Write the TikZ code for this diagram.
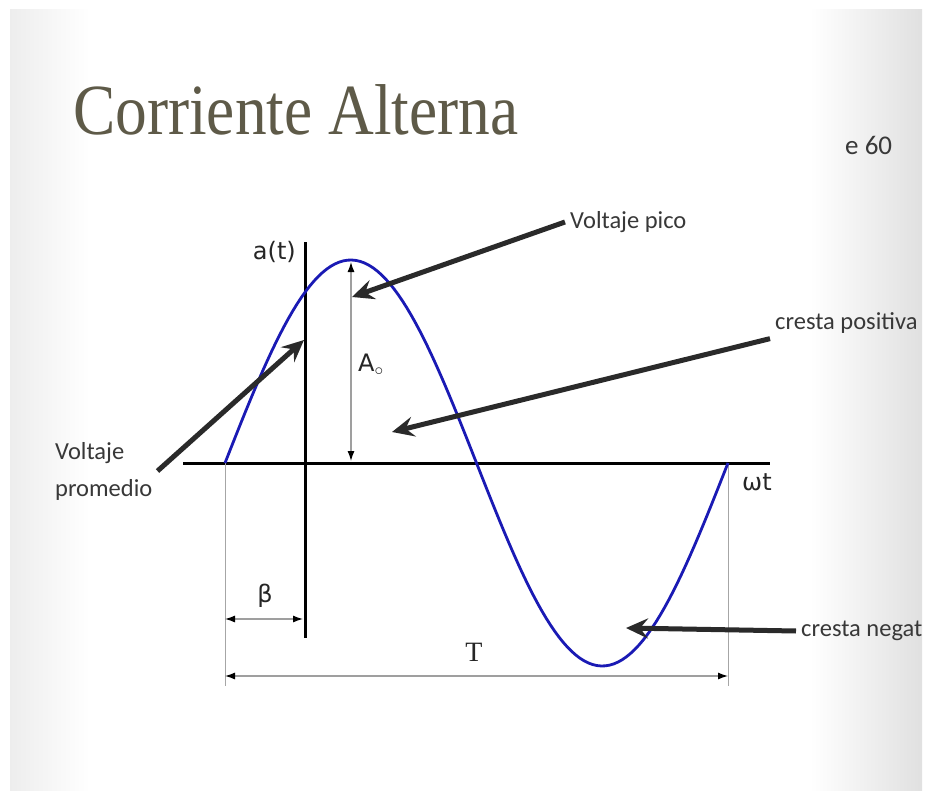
\documentclass[tikz,border=0pt]{standalone}
\usepackage{fontspec}
\setmainfont{Carlito}
\newfontfamily\titlefont[FakeStretch=0.88]{Liberation Serif}
\newfontfamily\axisfont{DejaVu Sans}
\newfontfamily\periodfont{Liberation Serif}
\usetikzlibrary{arrows.meta,positioning}
\definecolor{titlegray}{HTML}{5E5A48}
\definecolor{waveblue}{HTML}{1A1AB4}
\definecolor{pointergray}{HTML}{2A2A2A}
\tikzset{
    axis/.style={line width=3pt, black},
    wave/.style={line width=2.8pt, waveblue},
    guide/.style={line width=1pt, gray!70},
    dimline/.style={
        line width=1.2pt,
        gray!75,
        {Latex[length=10pt, width=7pt, color=black]}-{Latex[length=10pt, width=7pt, color=black]}
    },
    pointer/.style={
        line width=5pt,
        pointergray,
        -{Stealth[length=22pt, width=20pt, inset=8pt]}
    },
    note/.style={font=\fontsize{24.5}{37}\selectfont, text=black!78, inner sep=5pt},
    sym/.style={font=\axisfont\fontsize{24}{28}\selectfont, text=black!85, inner sep=0pt}
}

\begin{document}
\begin{tikzpicture}[x=1pt, y=-1pt]
  % Slide background
  \fill[white] (0,0) rectangle (927,797);
  \shade[left color=gray!14, right color=white] (10,10) rectangle (90,790);
  \shade[left color=white, right color=gray!24] (810,10) rectangle (922,790);
  \useasboundingbox (0,0) rectangle (927,797);

  % Title
  \node[anchor=base west, inner sep=0pt, text=titlegray, font=\titlefont\fontsize{72}{80}\selectfont] (title) at (73,135) {Corriente Alterna};
  \node[note, anchor=west, font=\fontsize{27}{30}\selectfont] (slide) at (840,145) {e 60};

  % Axes
  \coordinate (xstart) at (183,463);
  \coordinate (xend) at (770,463);
  \coordinate (ytop) at (305,242);
  \coordinate (ybot) at (305,638);
  \draw[axis] (xstart) -- (xend);
  \draw[axis] (ytop) -- (ybot);
  \node[sym, anchor=east] (at) at (296,252) {a(t)};
  \node[sym, anchor=west] (wt) at (742,482) {ωt};

  % Guides
  \coordinate (w0) at (225,463);
  \coordinate (w4) at (728,463);
  \coordinate (g0) at (225,686);
  \coordinate (g4) at (728,686);
  \draw[guide] (w0) -- (g0);
  \draw[guide] (w4) -- (g4);

  % Sine wave
  \draw[wave] plot[domain=225:728, samples=120] (\x, {463-203*sin((\x-225)*0.715706)});

  % Dimensions
  \coordinate (b0) at (225,619);
  \coordinate (b1) at (303,619);
  \draw[dimline] (b0) -- (b1);
  \node[sym] (beta) at (265,596) {β};
  \coordinate (t0) at (225,676);
  \coordinate (t1) at (728,676);
  \draw[dimline] (t0) -- (t1);
  \node[font=\periodfont\fontsize{28}{30}\selectfont, text=black!85] (T) at (474,652) {T};
  \coordinate (a0) at (351,461);
  \coordinate (a1) at (351,262);
  \draw[dimline] (a0) -- (a1);
  \node[sym, anchor=west] (amp) at (358,365) {A$_\circ$};

  % Labels
  \node[note, anchor=west] (pico) at (565,222) {Voltaje pico};
  \node[note, anchor=west] (positiva) at (770,323) {cresta positiva};
  \node[note, anchor=west, align=left] (promedio) at (50,471) {Voltaje\\promedio};
  \node[note, anchor=west] (negat) at (796,631) {cresta negat};

  % Pointers
  \coordinate (picotip) at (352,297);
  \coordinate (positivatip) at (392,432);
  \coordinate (promediotip) at (304,340);
  \coordinate (negattip) at (626,628);
  \draw[pointer] (pico.west) -- (picotip);
  \draw[pointer] (positiva.south west) -- (positivatip);
  \draw[pointer] (promedio.east) -- (promediotip);
  \draw[pointer] (negat.west) -- (negattip);
\end{tikzpicture}
\end{document}
